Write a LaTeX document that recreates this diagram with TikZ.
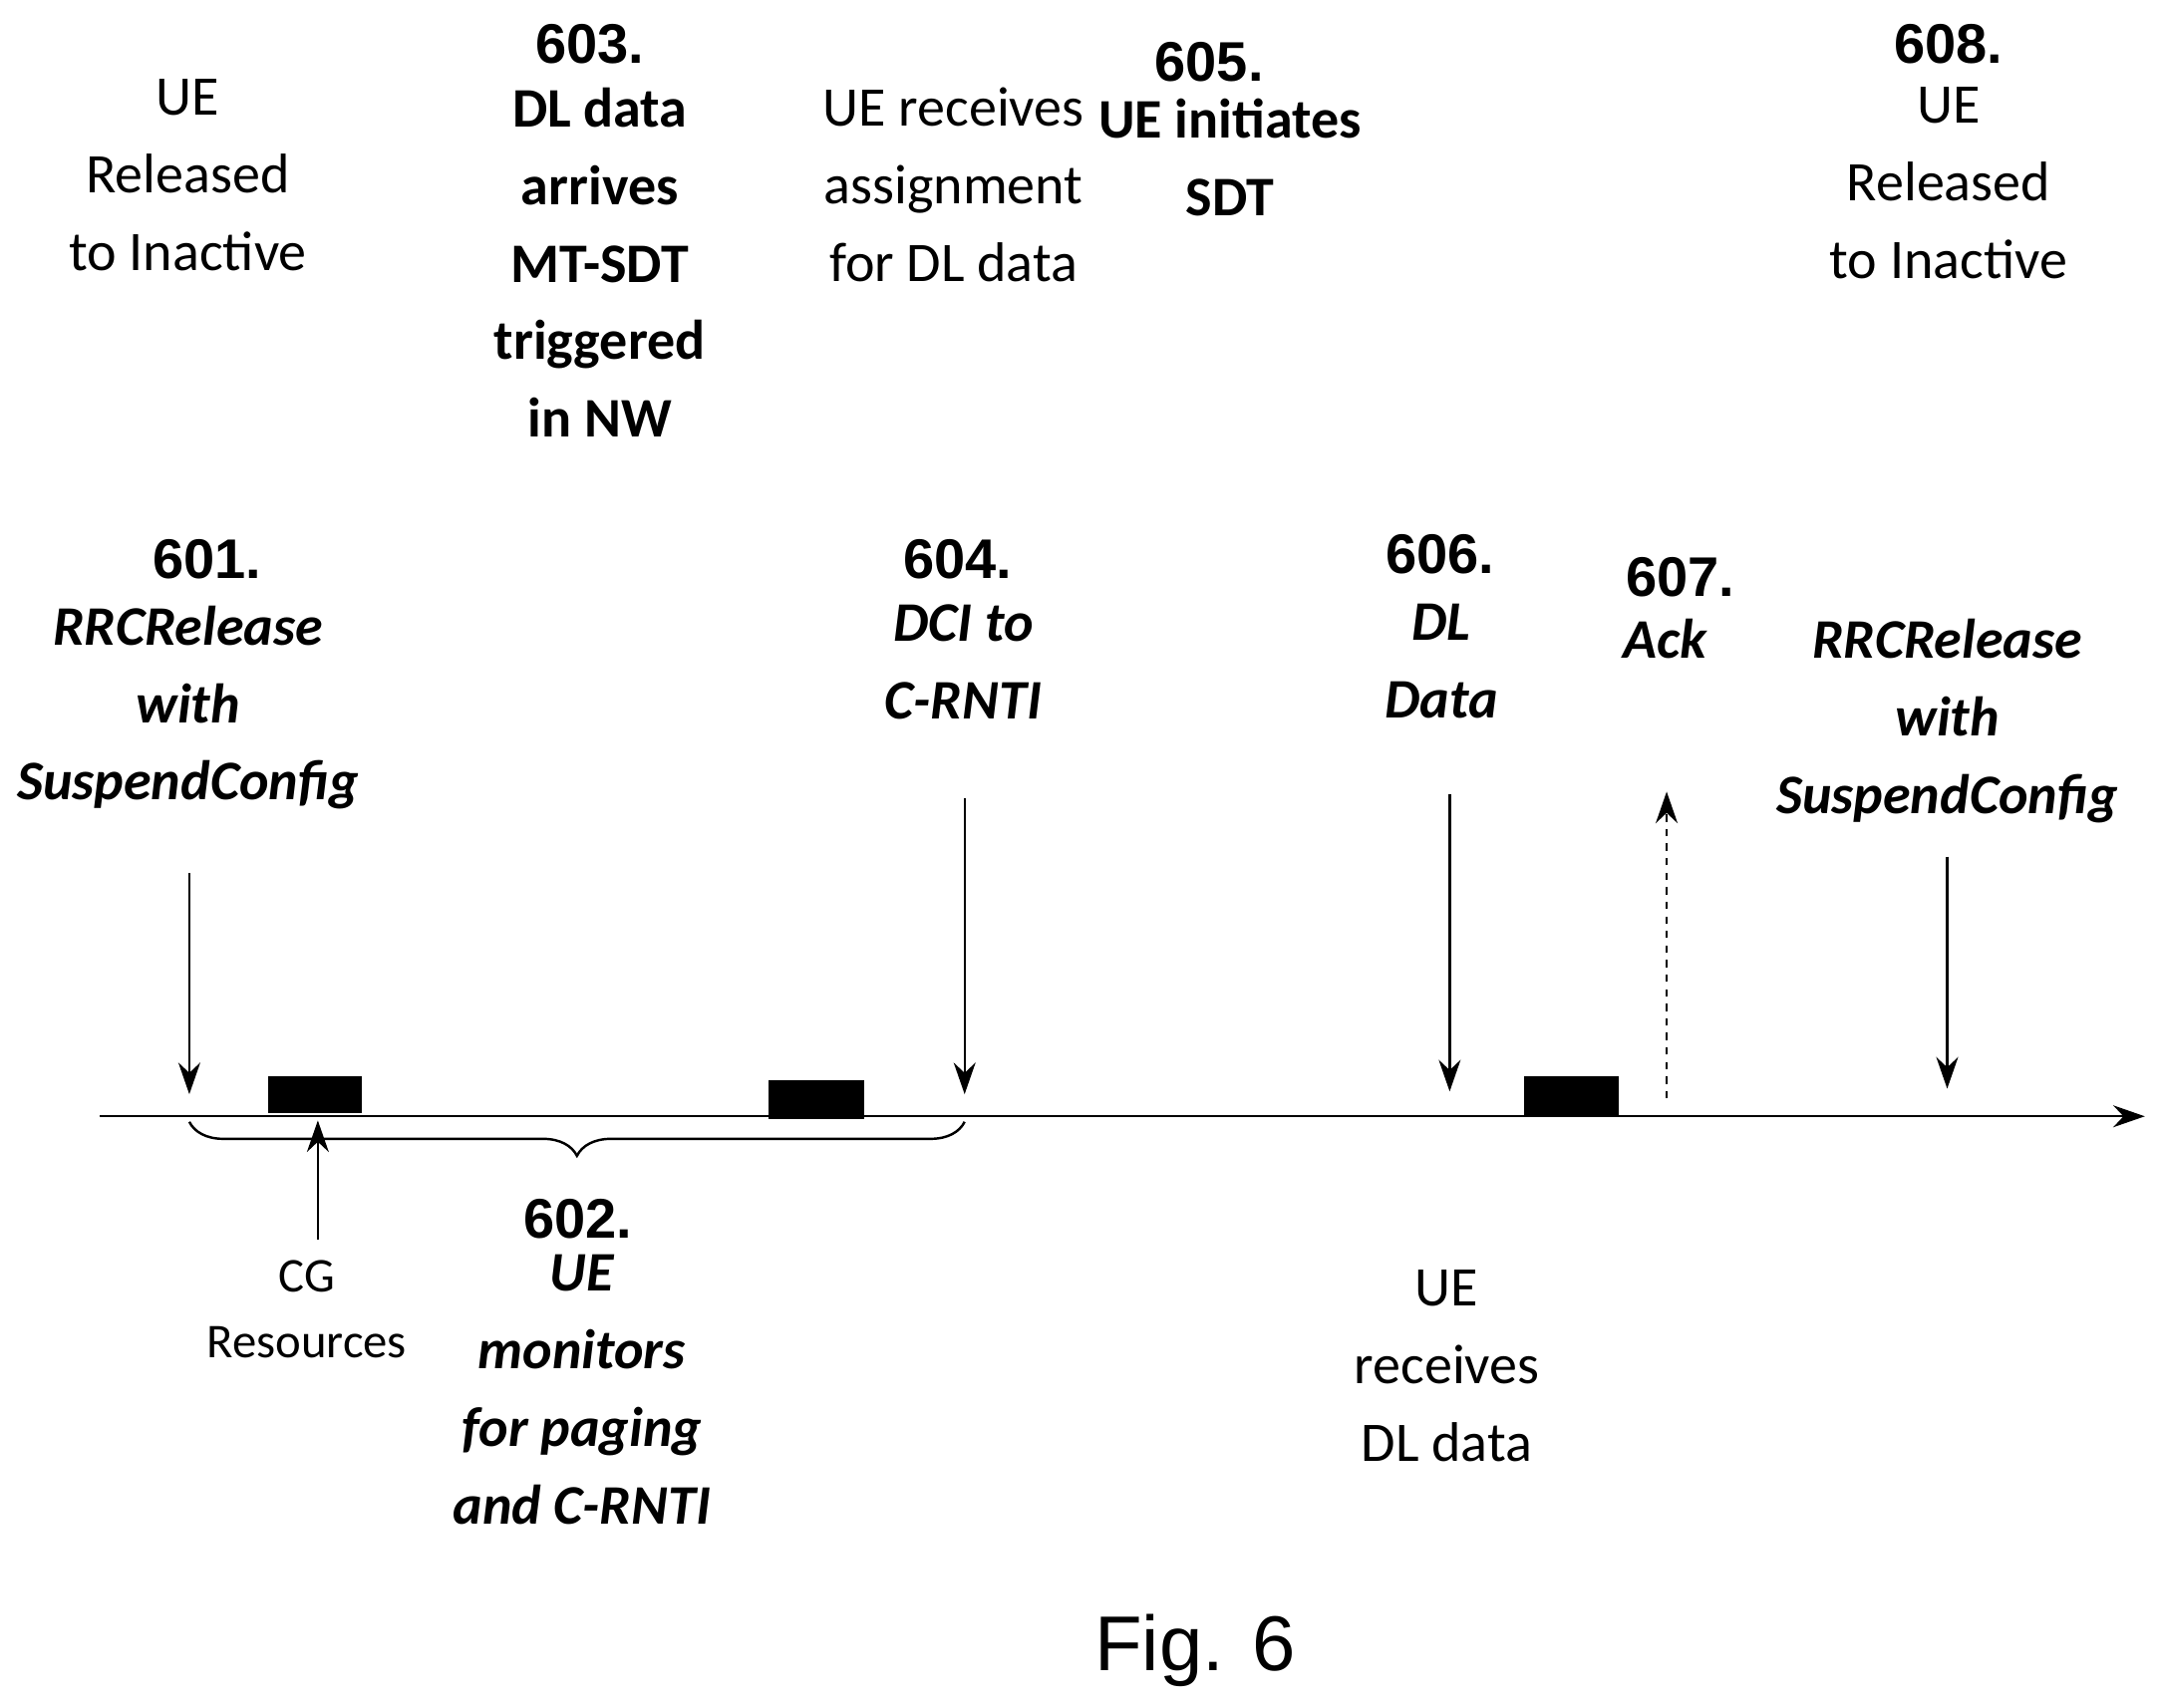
\documentclass[tikz,border=0pt]{standalone}
\usepackage{fontspec}
\setmainfont{Carlito}
\newfontfamily\arial{Liberation Sans}
\usetikzlibrary{decorations.pathreplacing,arrows.meta}
\begin{document}
\begin{tikzpicture}[x=0.02cm,y=-0.02cm,
 txt/.style={align=center,inner sep=0pt,anchor=north,font=\fontsize{23}{32}\selectfont},
 btxt/.style={txt,font=\fontsize{23}{32}\selectfont\bfseries},
 itxt/.style={txt,font=\fontsize{23}{32}\selectfont\bfseries\itshape},
 num/.style={inner sep=0pt,font=\arial\fontsize{23}{28}\selectfont\bfseries},
 arr/.style={-{Stealth[length=13pt,width=9pt]},line width=1pt},
 blk/.style={fill=black}]
\useasboundingbox (0,0) rectangle (1563,1236);
% timeline
\coordinate (t0) at (72,808); \coordinate (t1) at (1552,808);
\draw[arr] (t0) -- (t1);
\fill[blk] (194,779) rectangle (262,806);
\fill[blk] (556,782) rectangle (625,810);
\fill[blk] (1103,779) rectangle (1171,808);
% arrows
\coordinate (a1s) at (137,632); \coordinate (a1e) at (137,792);
\coordinate (a4s) at (698,578); \coordinate (a4e) at (698,792);
\coordinate (a6s) at (1049,575); \coordinate (a6e) at (1049,790);
\coordinate (a8s) at (1409,620); \coordinate (a8e) at (1409,788);
\coordinate (a7s) at (1206,795); \coordinate (a7e) at (1206,573);
\coordinate (cgs) at (230,897); \coordinate (cge) at (230,811);
\draw[arr] (a1s) -- (a1e);
\draw[arr] (a4s) -- (a4e);
\draw[arr] (a6s) -- (a6e);
\draw[arr] (a8s) -- (a8e);
\draw[arr,dashed] (a7s) -- (a7e);
\draw[arr] (cgs) -- (cge);
\coordinate (b0) at (137,812); \coordinate (b1) at (698,812);
\draw[line width=1pt,decorate,decoration={brace,mirror,amplitude=14pt}] (b0) -- (b1);
% top texts
\node[txt] (t1a) at (136,57) {UE\\Released\\to Inactive};
\node[num] (n603) at (427,32) {603.};
\node[btxt] (t603) at (434,63) {DL data\\arrives\\MT-SDT\\triggered\\in NW};
\node[txt] (t604a) at (690,63) {UE receives\\assignment\\for DL data};
\node[num] (n605) at (875,45) {605.};
\node[btxt] (t605) at (890,71) {UE initiates\\SDT};
\node[num] (n608) at (1410,32) {608.};
\node[txt] (t608) at (1410,63) {UE\\Released\\to Inactive};
% middle
\node[num] (n601) at (150,405) {601.};
\node[itxt] (t601) at (136,438) {RRCRelease\\with\\SuspendConfig};
\node[num] (n604) at (693,405) {604.};
\node[itxt] (t604) at (697,437) {DCI to\\C-RNTI};
\node[num] (n606) at (1042,401) {606.};
\node[itxt] (t606) at (1043,437) {DL\\Data};
\node[num] (n607) at (1216,418) {607.};
\node[itxt] (t607) at (1205,448) {Ack};
\node[itxt] (t608b) at (1409,448) {RRCRelease\\with\\SuspendConfig};
% bottom
\node[txt,font=\fontsize{20}{27}\selectfont] (cg) at (222,912) {CG\\Resources};
\node[num] (n602) at (418,882) {602.};
\node[itxt] (t602) at (421,908) {UE\\monitors\\for paging\\and C-RNTI};
\node[txt] (t606b) at (1047,919) {UE\\receives\\DL data};
\node[inner sep=0pt,font=\arial\fontsize{32}{36}\selectfont] (fig) at (865,1195) {Fig. 6};
\end{tikzpicture}
\end{document}
